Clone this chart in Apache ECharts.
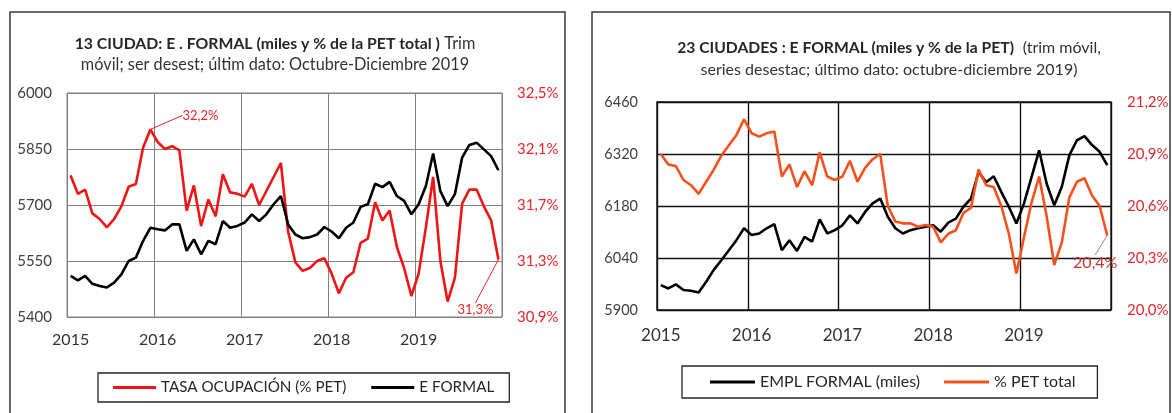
<!DOCTYPE html>
<html><head><meta charset="utf-8">
<script src="https://cdn.jsdelivr.net/npm/echarts@6/dist/echarts.min.js"></script>
<style>html,body{margin:0;padding:0;background:#fff}#c{width:1172px;height:413px}</style>
</head><body><div id="c"></div>
<script>
// ---------- DATA ----------
const years = ['2015', '2016', '2017', '2018', '2019'];
const months = [];
years.forEach(function (y) { for (let m = 1; m <= 12; m++) months.push(y + '-' + (m < 10 ? '0' : '') + m); });

// 13 ciudades
const eFormal13 = [5510, 5498, 5510, 5489, 5483, 5479, 5492, 5514, 5550, 5559, 5604, 5639,
  5635, 5632, 5648, 5648, 5577, 5608, 5568, 5604, 5595, 5657, 5639, 5644,
  5653, 5675, 5657, 5675, 5702, 5724, 5648, 5621, 5611, 5614, 5621, 5641,
  5629, 5611, 5639, 5653, 5695, 5702, 5757, 5748, 5762, 5724, 5711, 5675,
  5702, 5751, 5838, 5737, 5697, 5729, 5827, 5861, 5867, 5849, 5831, 5793];
const tasaOcup13 = [31.91, 31.78, 31.81, 31.64, 31.60, 31.54, 31.60, 31.69, 31.83, 31.85, 32.11, 32.24,
  32.15, 32.10, 32.12, 32.09, 31.66, 31.84, 31.55, 31.74, 31.62, 31.92, 31.79, 31.78,
  31.76, 31.85, 31.70, 31.80, 31.90, 32.00, 31.51, 31.29, 31.23, 31.25, 31.30, 31.32,
  31.21, 31.07, 31.18, 31.22, 31.43, 31.46, 31.72, 31.59, 31.66, 31.40, 31.25, 31.05,
  31.21, 31.54, 31.90, 31.30, 31.01, 31.18, 31.71, 31.81, 31.81, 31.69, 31.59, 31.31];

// 23 ciudades
const emplFormal23 = [5967, 5958, 5969, 5954, 5952, 5947, 5976, 6008, 6034, 6061, 6088, 6120,
  6102, 6106, 6120, 6131, 6061, 6088, 6059, 6097, 6084, 6144, 6106, 6115,
  6128, 6155, 6133, 6164, 6187, 6200, 6151, 6120, 6106, 6115, 6120, 6124,
  6128, 6111, 6135, 6146, 6178, 6200, 6272, 6244, 6260, 6218, 6178, 6133,
  6187, 6258, 6330, 6240, 6182, 6232, 6317, 6357, 6368, 6344, 6326, 6290];
const petTotal23 = [20.90, 20.84, 20.83, 20.75, 20.72, 20.67, 20.74, 20.81, 20.89, 20.95, 21.01, 21.10,
  21.02, 21.00, 21.02, 21.03, 20.77, 20.84, 20.71, 20.80, 20.72, 20.91, 20.77, 20.75,
  20.77, 20.86, 20.74, 20.82, 20.87, 20.90, 20.60, 20.51, 20.50, 20.50, 20.48, 20.49,
  20.48, 20.39, 20.44, 20.46, 20.56, 20.59, 20.81, 20.72, 20.71, 20.60, 20.44, 20.21,
  20.42, 20.62, 20.77, 20.54, 20.26, 20.39, 20.65, 20.74, 20.76, 20.66, 20.60, 20.43];

// tick labels
const ticksL1 = [5400, 5550, 5700, 5850, 6000];
const ticksR1 = [30.9, 31.3, 31.7, 32.1, 32.5];
const ticksL2 = [5900, 6040, 6180, 6320, 6460];
const ticksR2 = [20.0, 20.3, 20.6, 20.9, 21.2];

const names = ['TASA OCUPACIÓN (% PET)', 'E FORMAL', 'EMPL FORMAL (miles)', '% PET total'];
const labelled1 = [11, 59];   // annotated points, red series
const labelled2 = [59];       // annotated point, orange series

// ---------- CHART ----------
const FONT = 'Lato, "Open Sans", sans-serif';
const fmtPct = function (v) { return v.toFixed(1).replace('.', ',') + '%'; };
const fmtInt = function (v) { return String(Math.round(v)); };
const RED = '#f01515', ORANGE = '#f5501e', BLACK = '#000000';
const GRAY = '#808080';

function withLabels(arr, idxs, color, size) {
  return arr.map(function (v, i) {
    if (idxs.indexOf(i) < 0) return v;
    return { value: v, label: { show: true, formatter: fmtPct(v), color: color, fontSize: size, fontFamily: FONT } };
  });
}

const chart = echarts.init(document.getElementById('c'), null, { renderer: 'canvas' });

function xAxisCfg(gi, lineColor, lw, fontSize, margin) {
  return {
    type: 'category', gridIndex: gi, data: months, boundaryGap: true,
    axisLine: { show: false }, axisTick: { show: false },
    axisLabel: { interval: function (i) { return i % 12 === 0; }, formatter: function (v) { return v.slice(0, 4); },
      fontSize: fontSize, color: '#333', margin: margin, fontFamily: FONT },
    splitLine: { show: true, interval: function (i) { return i % 12 === 0; }, lineStyle: { color: lineColor, width: lw } }
  };
}

const option = {
  animation: false,
  backgroundColor: '#fff',
  textStyle: { fontFamily: FONT },
  title: [
    { left: 270, top: 28, textAlign: 'center',
      text: '{b|13 CIUDAD: E . FORMAL (miles y % de la PET total )} {n|Trim}\n{n|móvil; ser desest; últim dato: Octubre-Diciembre 2019}',
      textStyle: { rich: {
        b: { fontWeight: 'bold', fontSize: 15.8, color: '#262626', lineHeight: 21, fontFamily: FONT },
        n: { fontWeight: 'normal', fontSize: 16.3, color: '#333', lineHeight: 21, fontFamily: FONT } } } },
    { left: 884, top: 32, textAlign: 'center',
      text: '{b|23 CIUDADES : E FORMAL (miles y % de la PET)}  {n|(trim móvil,}\n{n|series desestac; último dato: octubre-diciembre 2019)}',
      textStyle: { rich: {
        b: { fontWeight: 'bold', fontSize: 15.7, color: '#262626', lineHeight: 22, fontFamily: FONT },
        n: { fontWeight: 'normal', fontSize: 16, color: '#333', lineHeight: 22, fontFamily: FONT } } } }
  ],
  grid: [
    { left: 67, top: 93, width: 435, height: 224, show: true, borderColor: GRAY, borderWidth: 1, backgroundColor: 'transparent' },
    { left: 657, top: 102, width: 454, height: 208, show: true, borderColor: '#111', borderWidth: 1.4, backgroundColor: 'transparent' }
  ],
  xAxis: [xAxisCfg(0, GRAY, 1, 16, 15), xAxisCfg(1, '#111', 1.4, 17, 17)],
  yAxis: [
    { type: 'value', gridIndex: 0, min: ticksL1[0], max: ticksL1[4], position: 'left',
      axisLine: { show: false }, axisTick: { show: false, customValues: ticksL1 },
      axisLabel: { customValues: ticksL1, formatter: fmtInt, fontSize: 15, color: '#404040', margin: 15, fontFamily: FONT },
      splitLine: { show: true, lineStyle: { color: GRAY, width: 1 } } },
    { type: 'value', gridIndex: 0, min: ticksR1[0], max: ticksR1[4], position: 'right',
      axisLine: { show: false }, axisTick: { show: false, customValues: ticksR1 },
      axisLabel: { customValues: ticksR1, formatter: fmtPct, fontSize: 15, color: '#e8262a', margin: 15, fontFamily: FONT },
      splitLine: { show: false } },
    { type: 'value', gridIndex: 1, min: ticksL2[0], max: ticksL2[4], position: 'left',
      axisLine: { show: false }, axisTick: { show: false, customValues: ticksL2 },
      axisLabel: { customValues: ticksL2, formatter: fmtInt, fontSize: 14.5, color: '#404040', margin: 19, fontFamily: FONT },
      splitLine: { show: true, lineStyle: { color: '#111', width: 1.4 } } },
    { type: 'value', gridIndex: 1, min: ticksR2[0], max: ticksR2[4], position: 'right',
      axisLine: { show: false }, axisTick: { show: false, customValues: ticksR2 },
      axisLabel: { customValues: ticksR2, formatter: fmtPct, fontSize: 15, color: '#d92b2b', margin: 16, fontFamily: FONT },
      splitLine: { show: false } }
  ],
  legend: [
    { left: 98, top: 373, data: [names[0], names[1]], icon: 'rect', itemWidth: 43, itemHeight: 3, itemGap: 25,
      padding: [7, 15], borderColor: '#262626', borderWidth: 1.3, selectedMode: false,
      textStyle: { fontSize: 15.2, color: '#262626', fontFamily: FONT } },
    { left: 682, top: 366, data: [names[2], names[3]], icon: 'rect', itemWidth: 45, itemHeight: 3, itemGap: 24,
      padding: [8, 22, 8, 28], borderColor: '#262626', borderWidth: 1.3, selectedMode: false,
      textStyle: { fontSize: 16, color: '#262626', fontFamily: FONT } }
  ],
  series: [
    { name: names[0], type: 'line', xAxisIndex: 0, yAxisIndex: 1, data: withLabels(tasaOcup13, labelled1, '#e8262a', 13),
      symbol: 'circle', symbolSize: 1, showSymbol: true, lineStyle: { color: RED, width: 2.6 }, itemStyle: { color: RED },
      label: { show: false },
      labelLine: { show: true, lineStyle: { color: '#e8262a', width: 1 } },
      labelLayout: function (p) {
        if (p.dataIndex === 11) return { dx: 50, dy: -2 };
        if (p.dataIndex === 59) return { dx: -23, dy: 62 };
      } },
    { name: names[1], type: 'line', xAxisIndex: 0, yAxisIndex: 0, data: eFormal13,
      symbol: 'none', lineStyle: { color: BLACK, width: 2.6 }, itemStyle: { color: BLACK } },
    { name: names[2], type: 'line', xAxisIndex: 1, yAxisIndex: 2, data: emplFormal23,
      symbol: 'none', lineStyle: { color: BLACK, width: 2.6 }, itemStyle: { color: BLACK } },
    { name: names[3], type: 'line', xAxisIndex: 1, yAxisIndex: 3, data: withLabels(petTotal23, labelled2, '#c0392b', 16),
      symbol: 'circle', symbolSize: 1, showSymbol: true, lineStyle: { color: ORANGE, width: 2.6 }, itemStyle: { color: ORANGE },
      label: { show: false },
      labelLine: { show: true, lineStyle: { color: '#b07a9a', width: 1 } },
      labelLayout: function (p) {
        if (p.dataIndex === 59) return { dx: -12, dy: 41 };
      } }
  ],
  graphic: [
    { type: 'rect', silent: true, z: 100, shape: { x: 10, y: 12, width: 555, height: 430 }, style: { fill: 'none', stroke: '#3a3a3a', lineWidth: 1.5 } },
    { type: 'rect', silent: true, z: 100, shape: { x: 592, y: 12, width: 578, height: 430 }, style: { fill: 'none', stroke: '#3a3a3a', lineWidth: 1.5 } }
  ]
};
chart.setOption(option);
</script>
</body></html>
